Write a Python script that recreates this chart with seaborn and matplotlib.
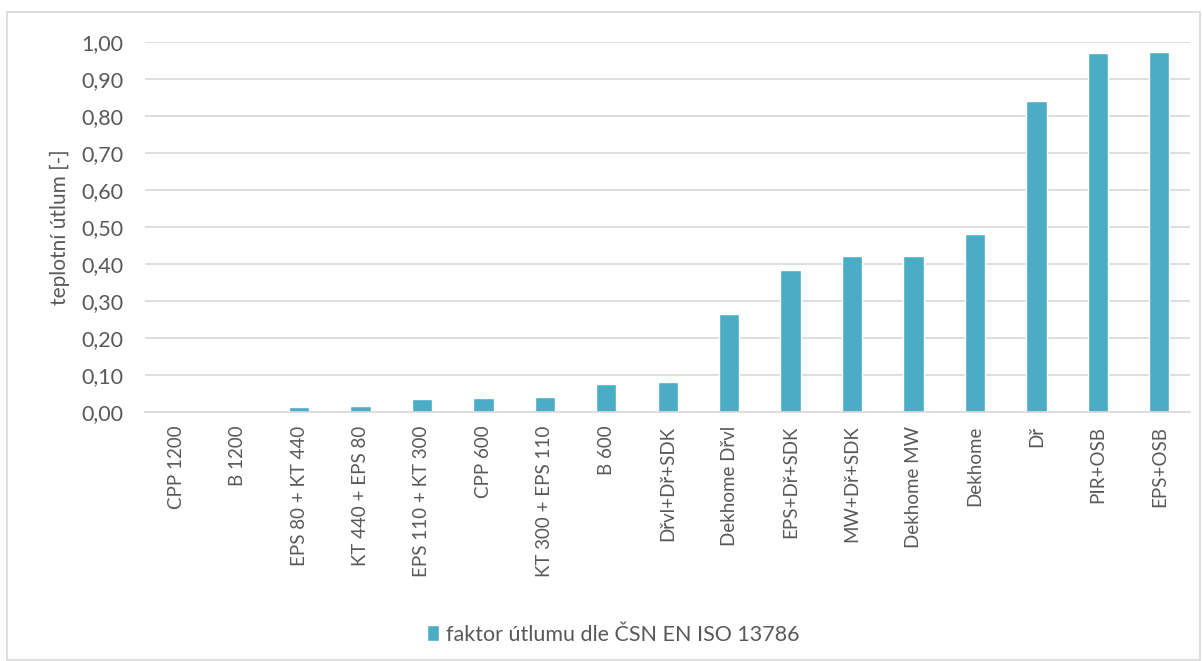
import numpy as np
import pandas as pd
import seaborn as sns
import matplotlib.pyplot as plt
from matplotlib.patches import Rectangle
from matplotlib.ticker import FuncFormatter

categories = ["CPP 1200", "B 1200", "EPS 80 + KT 440", "KT 440 + EPS 80",
              "EPS 110 + KT 300", "CPP 600", "KT 300 + EPS 110", "B 600",
              "Dřvl+Dř+SDK", "Dekhome Dřvl", "EPS+Dř+SDK", "MW+Dř+SDK",
              "Dekhome MW", "Dekhome", "Dř", "PIR+OSB", "EPS+OSB"]
values = [0.0, 0.002, 0.012, 0.015, 0.036, 0.038, 0.040, 0.076, 0.082,
          0.264, 0.383, 0.421, 0.421, 0.481, 0.841, 0.971, 0.975]
series_name = "faktor útlumu dle ČSN EN ISO 13786"
y_label = "teplotní útlum [-]"

bar_color = "#4BACC6"
text_color = "#595959"

df = pd.DataFrame({"kategorie": categories, "hodnota": values})

sns.set_theme(style="white")
plt.rcParams["font.family"] = ["Lato", "DejaVu Sans"]

fig = plt.figure(figsize=(12.02, 6.61), dpi=100)
ax = fig.add_axes([0.121, 0.377, 0.869, 0.559])

sns.barplot(data=df, x="kategorie", y="hodnota", color=bar_color,
            width=0.33, saturation=1, ax=ax, label=series_name)

ax.set_ylim(0, 1.0)
ax.set_yticks(np.arange(0, 1.01, 0.1))
ax.yaxis.set_major_formatter(FuncFormatter(lambda v, p: f"{v:.2f}".replace(".", ",")))
ax.set_xlim(-0.5, len(categories) - 0.5)
ax.grid(axis="y", color="#D9D9D9", linewidth=1.2)
ax.set_axisbelow(True)
for s in ["top", "right", "left"]:
    ax.spines[s].set_visible(False)
ax.spines["bottom"].set_color("#D9D9D9")
ax.spines["bottom"].set_linewidth(1.2)
ax.tick_params(axis="x", rotation=90, labelsize=13.5, colors=text_color, length=0, pad=10)
ax.tick_params(axis="y", labelsize=15.5, colors=text_color, length=0, pad=16)
ax.set_xlabel("")
ax.set_ylabel(y_label, fontsize=15, color=text_color, labelpad=8)

leg = ax.legend(loc="center", bbox_to_anchor=(0.51, 0.04), bbox_transform=fig.transFigure,
                frameon=False, fontsize=15.5, handlelength=0.6, handleheight=0.7,
                handletextpad=0.3)
for t in leg.get_texts():
    t.set_color(text_color)

fig.patches.append(Rectangle((0.006, 0.002), 0.992, 0.98, transform=fig.transFigure,
                             fill=False, edgecolor="#D9D9D9", linewidth=1.2))

fig.savefig("out.png", dpi=100)
